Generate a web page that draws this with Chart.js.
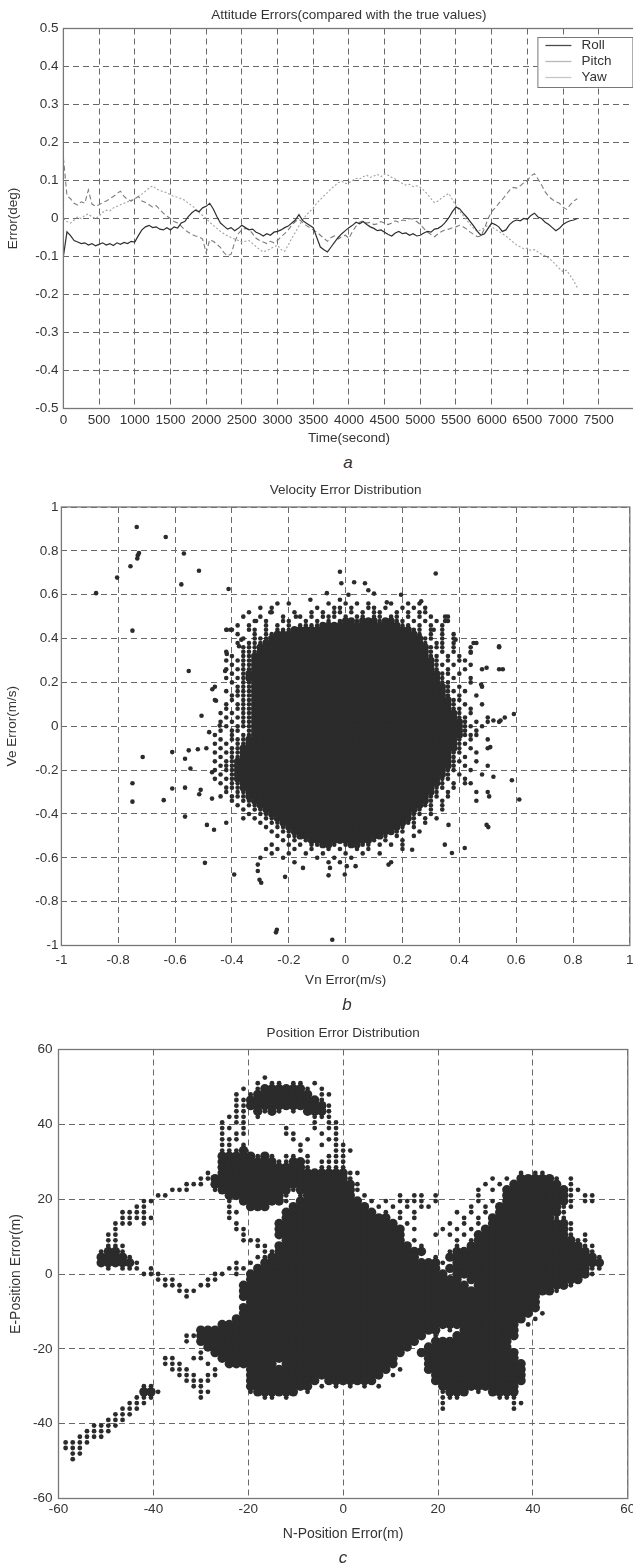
<!DOCTYPE html>
<html>
<head>
<meta charset="utf-8">
<title>Attitude, velocity and position errors</title>
<script src="https://cdn.jsdelivr.net/npm/chart.js@4.4.1/dist/chart.umd.min.js"></script>
<style>
  html, body { margin:0; padding:0; background:#fff; }
  body { width:633px; height:1566px; position:relative; overflow:hidden; }
  canvas { position:absolute; left:0; }
  .cap { position:absolute; width:40px; text-align:center; line-height:20px;
         font-family:'Liberation Sans', Arial, sans-serif; font-style:italic; font-size:17px; color:#333; }
</style>
</head>
<body>
<canvas id="att" width="640" height="452" style="top:0px"></canvas>
<div class="cap" style="left:328px;top:453px">a</div>
<canvas id="vel" width="640" height="530" style="top:470px"></canvas>
<div class="cap" style="left:327px;top:995px">b</div>
<canvas id="pos" width="640" height="540" style="top:1010px"></canvas>
<div class="cap" style="left:323px;top:1548px">c</div>
<script>
// ---------------- (a) attitude errors, deg ----------------
const attTime = [0,50,100,150,200,250,300,350,400,450,500,550,600,650,700,750,800,850,900,950,
1000,1050,1100,1150,1200,1250,1300,1350,1400,1450,1500,1550,1600,1650,1700,1750,1800,1850,1900,1950,
2000,2050,2100,2150,2200,2250,2300,2350,2400,2450,2500,2550,2600,2650,2700,2750,2800,2850,2900,2950,
3000,3050,3100,3150,3200,3250,3300,3350,3400,3450,3500,3550,3600,3650,3700,3750,3800,3850,3900,3950,
4000,4050,4100,4150,4200,4250,4300,4350,4400,4450,4500,4550,4600,4650,4700,4750,4800,4850,4900,4950,
5000,5050,5100,5150,5200,5250,5300,5350,5400,5450,5500,5550,5600,5650,5700,5750,5800,5850,5900,5950,
6000,6050,6100,6150,6200,6250,6300,6350,6400,6450,6500,6550,6600,6650,6700,6750,6800,6850,6900,6950,
7000,7050,7100,7150,7200];

const rollErr = [-0.100,-0.035,-0.045,-0.058,-0.062,-0.066,-0.064,-0.070,-0.066,-0.072,-0.068,-0.064,-0.070,-0.066,-0.071,-0.064,-0.068,-0.063,-0.066,-0.060,
-0.062,-0.045,-0.030,-0.022,-0.018,-0.024,-0.022,-0.028,-0.030,-0.024,-0.030,-0.022,-0.025,-0.012,-0.008,0.005,0.015,0.022,0.018,0.028,
0.032,0.040,0.025,0.005,-0.012,-0.020,-0.028,-0.024,-0.032,-0.026,-0.018,-0.024,-0.030,-0.028,-0.036,-0.040,-0.046,-0.040,-0.044,-0.036,
-0.034,-0.030,-0.024,-0.020,-0.012,-0.004,0.010,-0.005,-0.012,-0.018,-0.024,-0.050,-0.075,-0.082,-0.088,-0.075,-0.062,-0.050,-0.040,-0.032,
-0.024,-0.018,-0.010,-0.014,-0.008,-0.016,-0.022,-0.026,-0.032,-0.030,-0.036,-0.042,-0.046,-0.038,-0.034,-0.040,-0.038,-0.044,-0.040,-0.046,
-0.044,-0.038,-0.034,-0.036,-0.028,-0.026,-0.020,-0.010,0.002,0.018,0.030,0.026,0.014,0.004,-0.008,-0.020,-0.034,-0.044,-0.040,-0.026,
-0.012,-0.016,-0.022,-0.034,-0.030,-0.016,-0.008,-0.004,-0.006,0.000,-0.002,0.008,0.014,0.004,0.000,-0.010,-0.016,-0.024,-0.032,-0.026,
-0.016,-0.010,-0.006,-0.004,0.000];

const pitchErr = [0.160,0.060,0.052,0.040,0.035,0.044,0.040,0.075,0.038,0.032,0.036,0.042,0.046,0.052,0.058,0.066,0.072,0.058,0.050,0.046,
0.052,0.058,0.046,0.042,0.036,0.030,0.034,0.024,0.014,0.006,0.000,-0.008,-0.012,-0.020,-0.030,-0.036,-0.042,-0.046,-0.048,-0.054,
-0.090,-0.056,-0.060,-0.068,-0.076,-0.090,-0.098,-0.094,-0.062,-0.040,-0.030,-0.026,-0.028,-0.040,-0.052,-0.058,-0.062,-0.066,-0.060,-0.064,
-0.058,-0.048,-0.040,-0.030,-0.018,-0.008,-0.002,-0.010,-0.018,-0.024,-0.030,-0.036,-0.044,-0.052,-0.060,-0.050,-0.046,-0.054,-0.048,-0.044,
-0.052,-0.034,-0.020,-0.010,-0.006,-0.012,-0.010,-0.016,-0.014,-0.008,-0.012,-0.016,-0.012,-0.006,-0.010,-0.004,-0.006,0.000,-0.002,-0.008,
-0.016,-0.026,-0.036,-0.042,-0.048,-0.040,-0.034,-0.030,-0.028,-0.024,-0.022,-0.018,-0.022,-0.028,-0.036,-0.042,-0.048,-0.046,-0.026,0.000,
0.018,0.028,0.040,0.050,0.062,0.074,0.082,0.080,0.086,0.094,0.100,0.112,0.118,0.104,0.088,0.070,0.058,0.050,0.044,0.040,
0.030,0.024,0.036,0.046,0.052];

const yawErr = [0.000,-0.008,-0.012,-0.004,0.004,0.000,0.008,0.012,0.004,0.000,0.006,0.016,0.022,0.020,0.028,0.032,0.036,0.040,0.044,0.048,
0.052,0.058,0.064,0.072,0.080,0.086,0.078,0.074,0.070,0.068,0.062,0.058,0.056,0.052,0.048,0.040,0.034,0.026,0.016,0.008,
0.000,-0.010,-0.018,-0.026,-0.034,-0.040,-0.046,-0.050,-0.054,-0.058,-0.062,-0.060,-0.058,-0.066,-0.074,-0.082,-0.088,-0.084,-0.080,-0.074,
-0.070,-0.082,-0.086,-0.070,-0.052,-0.036,-0.020,-0.004,0.008,0.018,0.028,0.040,0.050,0.060,0.068,0.078,0.086,0.094,0.098,0.092,
0.094,0.100,0.106,0.104,0.110,0.114,0.108,0.112,0.116,0.110,0.118,0.114,0.108,0.104,0.098,0.092,0.088,0.090,0.084,0.086,
0.082,0.074,0.064,0.052,0.042,0.046,0.054,0.060,0.066,0.050,0.034,0.020,0.008,-0.004,-0.016,-0.026,-0.034,-0.030,-0.024,-0.018,
-0.022,-0.028,-0.034,-0.040,-0.046,-0.054,-0.062,-0.070,-0.074,-0.080,-0.078,-0.084,-0.082,-0.088,-0.094,-0.098,-0.104,-0.112,-0.122,-0.132,
-0.140,-0.136,-0.150,-0.164,-0.182];

// ---------------- (b) velocity error cloud, m/s ----------------
// occupancy rows: [Ve, first Vn, cells every 0.02]; '#' = solid ink, 'o' = single dot
const velRows = [
[0.56,-0.46,"...........o.o......o..o.o.o...o..o.o"],
[0.54,-0.46,"........o.o.......o..oo.o..oo.o..o.o.o"],
[0.52,-0.46,"......o...o...o..o.o.oo.o.o.oo..o.o.oo"],
[0.50,-0.46,".....o..o...o..o.o.ooo.o.oo.oo.oo.o.o.o..o"],
[0.48,-0.46,".......o.o..oo..o.o.o.o##o###o##oo.o.o.o.o"],
[0.46,-0.46,"....o.o..o.o.o.oooo##############oo.o.o.o"],
[0.44,-0.46,"..oo..oo.o.ooo#####################oo.o.o"],
[0.42,-0.46,"....o..o.oo#########################o.o.o.o"],
[0.40,-0.46,".....o.ooo###########################oo.o.o"],
[0.38,-0.46,"....o.ooo############################o.oo.o...o"],
[0.36,-0.46,".....ooo##############################ooo.o..o....o"],
[0.34,-0.46,"..o..ooo##############################o.o.o..o"],
[0.32,-0.46,"...o.oo###############################oo.o.o"],
[0.30,-0.46,"..o.ooo################################o.o.oo"],
[0.28,-0.46,"...o.oo################################oo.o..o"],
[0.26,-0.46,"..o.ooo################################o.o..o..o..o"],
[0.24,-0.46,"...o.o##################################oo.o"],
[0.22,-0.46,"..o.oo##################################o.o..o"],
[0.20,-0.46,"...o.oo#################################oo...o"],
[0.18,-0.46,"o...ooo##################################o.o...o"],
[0.16,-0.46,"..o.ooo##################################oo.o"],
[0.14,-0.46,"...oooo##################################o.o..o"],
[0.12,-0.46,"o..o.oo###################################oo"],
[0.10,-0.46,"..o.ooo###################################o.o..o"],
[0.08,-0.46,"..o.ooo###################################oo.o"],
[0.06,-0.46,".o.o.oo####################################o.o"],
[0.04,-0.46,"..o.ooo####################################oo...o..o"],
[0.02,-0.46,".o.o.oo#####################################o.o.o.o"],
[0.00,-0.46,"..o.ooo#####################################oo.o"],
[-0.02,-0.46,".o.oo.o#####################################o.o"],
[-0.04,-0.46,"o..o.oo#####################################ooo"],
[-0.06,-0.46,".o.ooo#####################################o.o..o"],
[-0.08,-0.46,"o.o.oo#####################################oo"],
[-0.10,-0.46,".o.oo######################################o.o..o"],
[-0.12,-0.46,"o.ooo#####################################oo..o"],
[-0.14,-0.46,".o.oo#####################################o.o"],
[-0.16,-0.46,"o.oo######################################oo..o"],
[-0.18,-0.46,".ooo######################################o.o...o"],
[-0.20,-0.46,"o.oo#####################################oo..o"],
[-0.22,-0.46,".o.o#####################################o.o...o"],
[-0.24,-0.46,"o.oo####################################oo..o"],
[-0.26,-0.46,".o.oo###################################o.o.o"],
[-0.28,-0.46,"..ooo##################################oo.o"],
[-0.30,-0.46,"..o.oo#################################o.o....o"],
[-0.32,-0.46,".o.ooo################################oo.o"],
[-0.34,-0.46,"...o.oo###############################o.o.....o"],
[-0.36,-0.46,"....o.oo#############################oo.o"],
[-0.38,-0.46,".....o.oo###########################o.o.o"],
[-0.40,-0.46,"......o.oo#########################oo.o"],
[-0.42,-0.46,".....o.o.oo########################o.o.o"],
[-0.44,-0.46,"........o.oo######################oo.o"],
[-0.46,-0.46,".........o.oo####################o.o"],
[-0.48,-0.46,"..........o.oo##################oo..o"],
[-0.50,-0.46,"...........o.oo###############o.o..o"],
[-0.52,-0.46,"............o.o.o###########o.o..o"],
[-0.54,-0.46,"..........o..o.o.oo##o.o##oo.o.o.o"],
[-0.56,-0.46,".........o.o..o..o..o.o..o.o.....o"],
[-0.58,-0.46,"..........o..o..o..o...o..o..o"],
[-0.60,-0.46,"........o...o.....o..o..o"],
[-0.62,-0.46,"..............o.....o.o........o"]
];
// isolated points outside the cloud
const velOutVn = [-0.735,-0.633,-0.731,-0.727,-0.733,-0.569,-0.757,-0.516,-0.804,-0.578,-0.878,-0.412,-0.750,
 -0.020,0.317,-0.015,0.030,0.068,-0.066,0.010,0.080,0.100,0.195,-0.124,-0.020,0.145,0.266,-0.265,-0.175,0.350,0.350,-0.315,-0.418,-0.405,0.310,-0.367,0.387,0.450,0.540,-0.418,-0.375,0.440,
 -0.552,-0.424,0.496,0.553,-0.469,-0.456,0.477,-0.507,0.592,0.520,0.545,-0.480,-0.443,
 -0.610,-0.714,-0.552,-0.520,-0.490,-0.565,-0.546,-0.470,-0.750,-0.750,-0.610,-0.565,-0.515,-0.510,-0.470,-0.640,-0.565,-0.488,-0.463,-0.420,
 0.509,0.520,0.585,0.611,0.500,0.505,0.496,0.502,0.440,0.362,0.349,0.374,0.419,0.234,0.151,
 -0.495,-0.392,-0.309,-0.309,-0.303,-0.297,-0.213,-0.150,-0.060,-0.055,0.004,-0.003,0.035,
 -0.245,-0.242,-0.047];
const velOutVe = [0.909,0.863,0.780,0.790,0.765,0.788,0.730,0.709,0.678,0.647,0.607,0.626,0.436,
 0.705,0.697,0.652,0.657,0.652,0.607,0.600,0.620,0.605,0.600,0.577,0.577,0.565,0.570,0.520,0.500,0.500,0.480,0.480,0.440,0.440,0.440,0.395,0.395,0.380,0.365,0.330,0.365,0.335,
 0.252,0.252,0.267,0.260,0.169,0.116,0.190,0.048,0.056,0.026,0.026,-0.027,0.003,
 -0.118,-0.140,-0.110,-0.105,-0.100,-0.148,-0.193,-0.210,-0.260,-0.344,-0.284,-0.280,-0.310,-0.290,-0.330,-0.337,-0.412,-0.450,-0.472,-0.440,
 -0.095,-0.230,-0.246,-0.334,-0.300,-0.320,-0.450,-0.460,-0.260,-0.450,-0.540,-0.578,-0.555,-0.563,-0.631,
 -0.623,-0.676,-0.631,-0.660,-0.700,-0.714,-0.687,-0.646,-0.680,-0.646,-0.638,-0.676,-0.638,
 -0.940,-0.928,-0.974];

// ---------------- (c) position error track, m ----------------
// occupancy rows: [E, first N, cells every 1.5 m]
const posRows = [
[52.5,-16.5,"o"],
[51,-18,"o.oo.oo.o"],
[49.5,-21,"o.o######o.o"],
[48,-22.5,"o.o########.oo"],
[46.5,-22.5,"oo##########o"],
[45,-22.5,"oo###########o"],
[43.5,-22.5,"oo.#o#o.o.###o"],
[42,-24,"ooo.o.......ooo"],
[40.5,-25.5,"o.oo.........o.oo"],
[39,-25.5,"oo.o.....o...o.oo"],
[37.5,-25.5,"o.oo.....oo...o.o"],
[36,-25.5,"ooo.......o.o..oo"],
[34.5,-25.5,"oo.o.......o..o.oo"],
[33,-25.5,"ooo#.......o....ooo"],
[31.5,-25.5,"#####o#o.oo.o..ooo"],
[30,-25.5,"########oo##o.oooo"],
[28.5,-25.5,"############o.oooo"],
[27,-28.5,"o.##################oo"],
[27,37.5,"o.oo"],
[25.5,-30,"oo###################o"],
[25.5,31.5,"o.o.#####o.o"],
[24,-33,"ooo.####################o"],
[24,30,"o.o.#######.o"],
[22.5,-36,"ooo...o##########o########o"],
[22.5,28.5,"o.o.#########oo"],
[21,-39,"oo........########o.o#######.o....o.oo.o"],
[21,28.5,"o...#########o.oo"],
[19.5,-42,"oo..........o.######o.#########.o.o.oooo.o"],
[19.5,28.5,"o.o.#########o.oo"],
[18,-43.5,"oo...........o..###...###########.o.o.o.oo"],
[18,27,"o.o.#########oo"],
[16.5,-46.5,"oooo...........oo......#############.o.o.o"],
[16.5,24,"o.o.o.#########o"],
[15,-46.5,"ooooo..........o.......###############.o.o"],
[15,25.5,"o.o.#########oo"],
[13.5,-48,"ooo.o............o.....#################.o"],
[13.5,22.5,"o.o.o.###########o"],
[12,-48,"o................oo....##################.o"],
[12,21,"o.o.o.############o"],
[10.5,-49.5,"oo.................o....##################....o"],
[10.5,22.5,"o.o.#############o.o"],
[9,-49.5,"oo.................ooo...#################.o"],
[9,24,"o.o##############oo"],
[7.5,-49.5,"ooo..................oo.###################.o"],
[7.5,24,"o.################oo"],
[6,-51,"o##o...................oo#####################"],
[6,22.5,"o###################o"],
[4.5,-51,"####o.................oo#####################"],
[4.5,19.5,"o.#####################o"],
[3,-51,"#####o.............o.o.#########################o.#####################"],
[1.5,-49.5,"o.ooo.o..........ooo.##########################.####################oo"],
[0,-42,"ooo.......oo.o.############################.###################o"],
[-1.5,-39,"ooo....oo....##############################.################"],
[-3,-37.5,"ooo..oo....################################.#############o"],
[-4.5,-34.5,"ooo......############################################o"],
[-6,-33,"o.......##########################################"],
[-7.5,-19.5,"#########################################"],
[-9,-21,"##########################################"],
[-10.5,-21,"#########################################.o"],
[-12,-22.5,"#########################################.o"],
[-13.5,-25.5,"##########################################.o"],
[-15,-30,"##################################.o.########"],
[-16.5,-33,"oo################################.o..#########"],
[-18,-33,"o.###############################..###########"],
[-19.5,-28.5,"#############################..############"],
[-21,-30,"o.###########################..##############"],
[-22.5,-37.5,"oo..oo..#########################....#############"],
[-24,-37.5,"ooo...o..#######.################....##############"],
[-25.5,-36,"ooo...o....####################.o...##############"],
[-27,-34.5,"ooo.oo....###################.o.....#############"],
[-28.5,-33,"oooo.....##########.#######........#############"],
[-30,-42,"oo.....oo......#########.o.o.o.o.o........###########"],
[-31.5,-42,"##o.....oo.....o######.o..................o###.o.####"],
[-33,-43.5,"ooo......o........oo.o.....................ooo.....ooo"],
[-34.5,-45,"ooo"],[-34.5,21,"o"],[-34.5,36,"oo"],
[-36,-46.5,"ooo"],[-36,21,"o"],[-36,36,"o"],
[-37.5,-48,"ooo"],
[-39,-49.5,"ooo"],
[-40.5,-52.5,"oooo"],
[-42,-54,"oooo"],
[-43.5,-55.5,"oooo"],
[-45,-58.5,"oooo"],
[-46.5,-58.5,"ooo"],
[-48,-57,"oo"],
[-49.5,-57,"o"]
];

// ---------------- helpers ----------------
function readCells(rows, step) {
  const solid = [], single = [];
  rows.forEach(([y, x0, pat]) => {
    for (let i = 0; i < pat.length; i++) {
      const ch = pat[i];
      if (ch === '.') continue;
      const p = { x: +(x0 + i * step).toFixed(3), y: y };
      if (ch === '#') solid.push(p); else single.push(p);
    }
  });
  return { solid, single };
}

const FONT = "'Liberation Sans', Arial, Helvetica, sans-serif";
Chart.defaults.font.family = FONT;
Chart.defaults.font.size = 13.5;
Chart.defaults.color = '#333';
Chart.defaults.animation = false;
Chart.defaults.responsive = false;
Chart.defaults.plugins.legend.display = false;
Chart.defaults.plugins.tooltip.enabled = false;

function axis(pos, min, max, step, title, size, tickPad, titlePad, fmt, titleSize) {
  const horiz = pos === 'bottom';
  return {
    type: 'linear', position: pos, min: min, max: max,
    ticks: { stepSize: step, autoSkip: false, maxRotation: 0, minRotation: 0, padding: tickPad, callback: fmt, color: '#333' },
    grid: { color: '#686868', lineWidth: 1, drawTicks: false },
    border: { display: false, dash: [6, 4] },
    title: { display: true, text: title, color: '#333', font: { size: titleSize || 13.5 },
             padding: horiz ? { top: 0, bottom: titlePad } : { top: titlePad, bottom: 0 } },
    afterFit(s) { if (horiz) s.height = size; else s.width = size; }
  };
}
function titleOpt(text, top, bottom) {
  return { display: true, text: text, fullSize: false, color: '#333',
           font: { size: 13.5, weight: 'normal' }, padding: { top: top, bottom: bottom } };
}
const boxPlugin = {
  id: 'box',
  afterDraw(chart) {
    const { ctx, chartArea: a } = chart;
    ctx.save();
    ctx.setLineDash([]);
    ctx.strokeStyle = '#777';
    ctx.lineWidth = 1.3;
    ctx.strokeRect(a.left, a.top, a.right - a.left, a.bottom - a.top);
    ctx.restore();
  }
};
const boxLegend = {
  id: 'boxLegend',
  afterDraw(chart) {
    const { ctx, chartArea: a } = chart;
    const x = a.right - 97, y = a.top + 8.5, w = 95, h = 50;
    ctx.save();
    ctx.setLineDash([]);
    ctx.fillStyle = '#fff';
    ctx.fillRect(x, y, w, h);
    ctx.strokeStyle = '#777';
    ctx.lineWidth = 1;
    ctx.strokeRect(x + 0.5, y + 0.5, w, h);
    ctx.font = '13.5px ' + FONT;
    ctx.textBaseline = 'middle';
    ctx.textAlign = 'left';
    chart.data.datasets.forEach((ds, i) => {
      const ly = y + 8.5 + i * 16;
      ctx.strokeStyle = ds.legendColor;
      ctx.lineWidth = 1.3;
      ctx.beginPath(); ctx.moveTo(x + 8, ly); ctx.lineTo(x + 34, ly); ctx.stroke();
      ctx.fillStyle = '#333';
      ctx.fillText(ds.label, x + 44, ly);
    });
    ctx.restore();
  }
};
const one = v => String(+Number(v).toFixed(1));

// ---------------- chart a ----------------
const pts = arr => attTime.map((t, i) => ({ x: t, y: arr[i] }));
new Chart(document.getElementById('att'), {
  type: 'line',
  data: { datasets: [
    { label: 'Roll',  data: pts(rollErr),  borderColor: '#2e2e2e', borderWidth: 1.2, pointRadius: 0, tension: 0, legendColor: '#4a4a4a' },
    { label: 'Pitch', data: pts(pitchErr), borderColor: '#7c7c7c', borderWidth: 1.1, borderDash: [5, 3], pointRadius: 0, tension: 0, legendColor: '#b8b8b8' },
    { label: 'Yaw',   data: pts(yawErr),   borderColor: '#a2a2a2', borderWidth: 1.1, borderDash: [2, 2], pointRadius: 0, tension: 0, legendColor: '#c6c6c6' }
  ]},
  options: {
    layout: { autoPadding: false, padding: { left: 0, right: 5.6, top: 0, bottom: 0 } },
    plugins: { title: titleOpt('Attitude Errors(compared with the true values)', 6.9, 5.4) },
    scales: {
      x: axis('bottom', 0, 8000, 500, 'Time(second)', 43.5, 3.4, 5.9, v => (v >= 8000 ? '' : String(v))),
      y: axis('left', -0.5, 0.5, 0.1, 'Error(deg)', 63.4, 5, 4.9, one)
    }
  },
  plugins: [boxPlugin, boxLegend]
});

// ---------------- chart b ----------------
const vel = readCells(velRows, 0.02);
const velOut = velOutVn.map((vn, i) => ({ x: vn, y: velOutVe[i] }));
new Chart(document.getElementById('vel'), {
  type: 'scatter',
  data: { datasets: [
    { label: 'cloud', data: vel.solid, pointRadius: 3.7, pointBorderWidth: 0, backgroundColor: '#2b2b2b' },
    { label: 'dots', data: vel.single.concat(velOut), pointRadius: 2.3, pointBorderWidth: 0, backgroundColor: '#2b2b2b' }
  ]},
  options: {
    layout: { autoPadding: false, padding: { left: 0, right: 8, top: 0, bottom: 0 } },
    plugins: { title: titleOpt('Velocity Error Distribution', 11.9, 8.9) },
    scales: {
      x: axis('bottom', -1, 1, 0.2, 'Vn Error(m/s)', 54.5, 6.4, 11.9, one),
      y: axis('left', -1, 1, 0.2, 'Ve Error(m/s)', 61.4, 3, 3.9, one)
    }
  },
  plugins: [boxPlugin]
});

// ---------------- chart c ----------------
const pos = readCells(posRows, 1.5);
new Chart(document.getElementById('pos'), {
  type: 'scatter',
  data: { datasets: [
    { label: 'track', data: pos.solid, pointRadius: 4.7, pointBorderWidth: 0, backgroundColor: '#2b2b2b' },
    { label: 'dots', data: pos.single, pointRadius: 2.4, pointBorderWidth: 0, backgroundColor: '#2b2b2b' }
  ]},
  options: {
    layout: { autoPadding: false, padding: { left: 0, right: 12.2, top: 0, bottom: 0 } },
    plugins: { title: titleOpt('Position Error Distribution', 14.9, 8.4) },
    scales: {
      x: axis('bottom', -60, 60, 20, 'N-Position Error(m)', 51.5, 2.4, 7.9, v => String(Math.round(v)), 14),
      y: axis('left', -60, 60, 20, 'E-Position Error(m)', 58.5, 6, 7.6, v => String(Math.round(v)), 14)
    }
  },
  plugins: [boxPlugin]
});
</script>
</body>
</html>
